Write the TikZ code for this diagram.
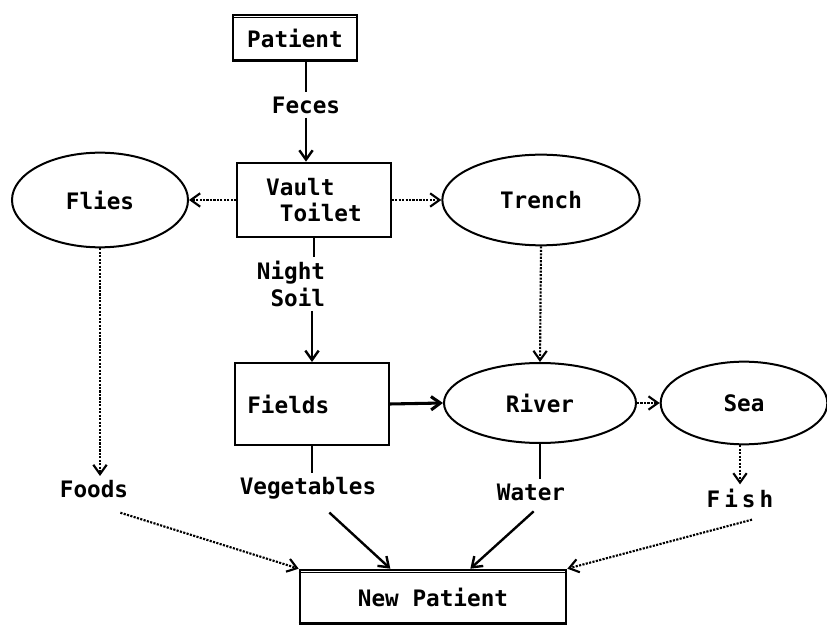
\documentclass[tikz,border=0pt]{standalone}
\usepackage{fontspec}
\setmainfont{DejaVu Sans Mono}
\usetikzlibrary{shapes.geometric,arrows.meta}

\tikzset{
  box/.style={draw, line width=1.5pt, rectangle, inner sep=0pt},
  patbox/.style={box, append after command={
      [line width=1pt]
      ([yshift=-2.5pt]\tikzlastnode.north west) edge ([yshift=-2.5pt]\tikzlastnode.north east)
      ([yshift=2.5pt]\tikzlastnode.south west) edge ([yshift=2.5pt]\tikzlastnode.south east)}},
  blob/.style={draw, line width=1.5pt, ellipse, inner sep=0pt},
  tag/.style={inner sep=3pt},
  plain/.style={line width=1.8pt},
  flow/.style={line width=1.8pt, -{Straight Barb[length=7pt,width=10pt]}},
  dotflow/.style={line width=1.6pt, densely dotted, -{Straight Barb[length=7pt,width=10pt]}}
}

\begin{document}
\begin{tikzpicture}[x=0.75pt, y=-0.75pt, font=\fontsize{17}{20}\selectfont\bfseries]
  \useasboundingbox (0,0) rectangle (827,630);

  % boxes and ellipses
  \node[patbox, minimum width=93pt, minimum height=35pt] (patient) at (295,38) {Patient};
  \node[tag] (feces) at (306,105) {Feces};
  \node[box, minimum width=115pt, minimum height=56pt, align=left] (vault) at (314,200) {Vault\\\ Toilet};
  \node[blob, minimum width=132pt, minimum height=71pt] (flies) at (100,200) {Flies};
  \node[blob, minimum width=148pt, minimum height=68pt] (trench) at (541,200) {Trench};
  \node[tag, align=right] (soil) at (291,284) {Night\\Soil};
  \node[box, minimum height=61.5pt, text width=97pt, inner xsep=9pt, align=left] (fields) at (312,404) {Fields};
  \node[blob, minimum width=144pt, minimum height=60pt] (river) at (540,403) {River};
  \node[blob, minimum width=125pt, minimum height=62pt] (sea) at (744,403) {Sea};

  % what reaches the new patient
  \node[tag] (foods) at (94,489) {Foods};
  \node[tag] (veg) at (308,488) {Vegetables};
  \node[tag] (water) at (531,492) {Water};
  \node[tag] (fish) at (740,498) {F\hspace{3pt}i\hspace{3pt}s\hspace{3pt}h};
  \node[patbox, minimum width=200pt, minimum height=41pt] (newpat) at (433,597) {New Patient};

  % connectors
  \draw[plain] (feces.north |- patient.south) -- (feces.north);
  \draw[flow] (feces.south) -- (feces.south |- vault.north);
  \draw[dotflow] (vault.west) -- (flies.east);
  \draw[dotflow] (vault.east) -- (trench.west);
  \draw[plain] (vault.south) -- (vault.south |- soil.north);
  \draw[flow] (fields.north |- soil.south) -- (fields.north);
  \draw[dotflow] (trench.south) -- (river.north);
  \draw[flow, line width=2.3pt] (fields.east) -- (river.west);
  \draw[dotflow] (river.east) -- (sea.west);

  \draw[dotflow] (flies.south) -- (flies.south |- foods.north);
  \draw[plain] (fields.south) -- (fields.south |- veg.north);
  \draw[plain] (river.south) -- (river.south |- water.north);
  \draw[dotflow] (fish.north |- sea.south) -- (fish.north);

  \draw[dotflow] ([shift={(-9pt,-8pt)}]foods.south east) -- (newpat.north west);
  \draw[flow] ([shift={(16pt,-7pt)}]veg.south) -- ([xshift=-32pt]newpat.north);
  \draw[flow] ([shift={(2pt,-5pt)}]water.south) -- ([xshift=28pt]newpat.north);
  \draw[dotflow] ([shift={(9pt,-6pt)}]fish.south) -- (newpat.north east);
\end{tikzpicture}
\end{document}
